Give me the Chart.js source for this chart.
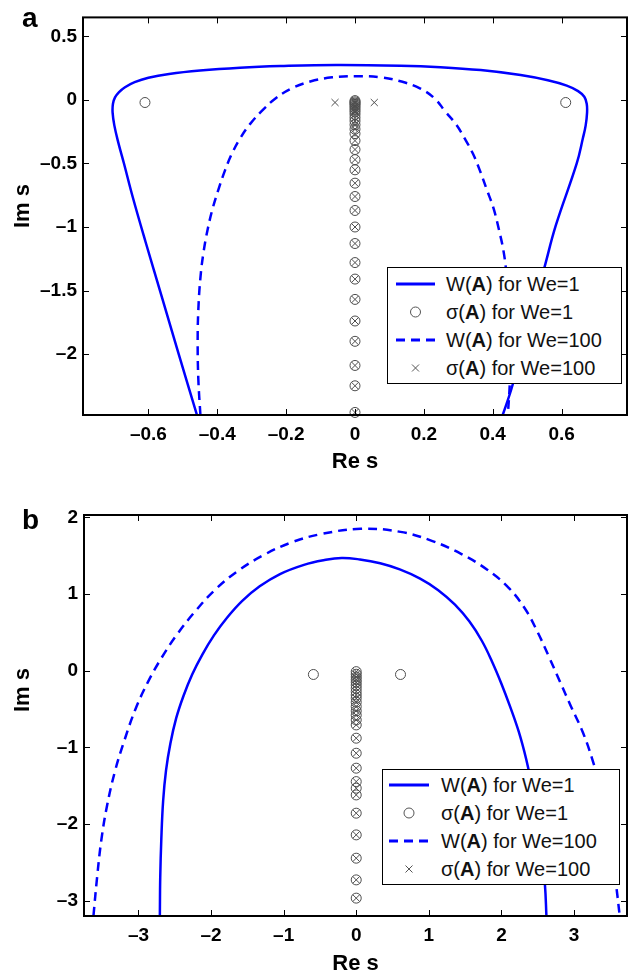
<!DOCTYPE html>
<html>
<head>
<meta charset="utf-8">
<script src="https://cdn.jsdelivr.net/npm/chart.js@4.4.1/dist/chart.umd.min.js"></script>
<style>
  body { margin: 0; background: #fff; font-family: "Liberation Sans", Arial, Helvetica, sans-serif; }
  #page { position: relative; width: 633px; height: 977px; overflow: hidden; }
  canvas { position: absolute; left: 0; }
  #chartA { top: 0; }
  #chartB { top: 488px; }
  .panel { position: absolute; left: 22px; font-size: 28px; font-weight: bold; line-height: 28px; }
  .ylab { position: absolute; font-size: 22px; font-weight: bold; line-height: 1; white-space: nowrap;
          transform: translate(-50%, -50%) rotate(-90deg); }
  .legend { position: absolute; box-sizing: border-box; border: 1.5px solid #000; background: #fff; }
  .legend svg { position: absolute; left: 0; top: 0; }
  .legend .row { position: absolute; left: 58px; height: 28px; line-height: 28px; font-size: 20px; color: #111; white-space: nowrap; }
</style>
</head>
<body>
<div id="page">
  <canvas id="chartA" width="633" height="488"></canvas>
  <canvas id="chartB" width="633" height="489"></canvas>

  <div class="panel" style="top:4px">a</div>
  <div class="panel" style="top:506px">b</div>
  <div class="ylab" style="left:22px; top:206px">Im s</div>
  <div class="ylab" style="left:22px; top:690px">Im s</div>

  <div class="legend" style="left:387px; top:267px; width:235px; height:117px">
    <svg width="60" height="115">
      <line x1="8" y1="16" x2="47" y2="16" stroke="#0000ff" stroke-width="3"/>
      <circle cx="27.5" cy="44" r="5" fill="none" stroke="#555" stroke-width="1"/>
      <line x1="8" y1="72" x2="47" y2="72" stroke="#0000ff" stroke-width="3" stroke-dasharray="9,6"/>
      <path d="M24 96.5 L31 103.5 M31 96.5 L24 103.5" stroke="#555" stroke-width="1"/>
    </svg>
    <div class="row" style="top:2px">W(<b>A</b>) for We=1</div>
    <div class="row" style="top:30px">σ(<b>A</b>) for We=1</div>
    <div class="row" style="top:58px">W(<b>A</b>) for We=100</div>
    <div class="row" style="top:86px">σ(<b>A</b>) for We=100</div>
  </div>

  <div class="legend" style="left:382px; top:769px; width:238px; height:116px">
    <svg width="60" height="114">
      <line x1="6" y1="15" x2="46" y2="15" stroke="#0000ff" stroke-width="3"/>
      <circle cx="26" cy="43" r="5" fill="none" stroke="#555" stroke-width="1"/>
      <line x1="6" y1="71" x2="46" y2="71" stroke="#0000ff" stroke-width="3" stroke-dasharray="9,6"/>
      <path d="M22.5 95.5 L29.5 102.5 M29.5 95.5 L22.5 102.5" stroke="#555" stroke-width="1"/>
    </svg>
    <div class="row" style="top:1px">W(<b>A</b>) for We=1</div>
    <div class="row" style="top:29px">σ(<b>A</b>) for We=1</div>
    <div class="row" style="top:57px">W(<b>A</b>) for We=100</div>
    <div class="row" style="top:85px">σ(<b>A</b>) for We=100</div>
  </div>
</div>

<script>
// ---- panel a: numerical range boundaries ----
const topW1Re = [-0.459, -0.512, -0.56, -0.608, -0.646, -0.671, -0.688, -0.699, -0.704, -0.703, -0.697, -0.686, -0.668, -0.64, -0.60, -0.54, -0.45, -0.334, -0.217, -0.055, 0.132, 0.248, 0.365, 0.481, 0.56, 0.615, 0.648, 0.666, 0.673, 0.674, 0.67, 0.662, 0.644, 0.583, 0.549, 0.50, 0.457, 0.429];
const topW1Im = [-2.48, -2.0, -1.56, -1.12, -0.76, -0.5, -0.33, -0.2, -0.1, -0.03, 0.02, 0.06, 0.10, 0.14, 0.175, 0.205, 0.232, 0.254, 0.267, 0.276, 0.27, 0.258, 0.235, 0.196, 0.155, 0.113, 0.07, 0.025, -0.03, -0.1, -0.2, -0.3, -0.5, -0.99, -1.33, -1.8, -2.25, -2.48];

const topW100Re = [-0.449, -0.455, -0.457, -0.455, -0.449, -0.44, -0.428, -0.413, -0.396, -0.377, -0.357, -0.333, -0.305, -0.272, -0.232, -0.185, -0.13, -0.066, 0.004, 0.075, 0.135, 0.19, 0.232, 0.262, 0.293, 0.318, 0.342, 0.362, 0.382, 0.402, 0.418, 0.432, 0.441, 0.448, 0.451, 0.45, 0.444];
const topW100Im = [-2.48, -2.2, -1.9, -1.65, -1.4, -1.2, -1.02, -0.85, -0.7, -0.55, -0.42, -0.3, -0.19, -0.09, 0.01, 0.09, 0.145, 0.178, 0.187, 0.178, 0.145, 0.09, 0.01, -0.09, -0.19, -0.3, -0.42, -0.55, -0.7, -0.85, -1.02, -1.2, -1.4, -1.65, -1.9, -2.2, -2.48];

// ---- panel a: eigenvalues ----
const topSig1Re = [-0.61, 0.612,
  0, 0, 0, 0, 0, 0, 0, 0, 0, 0,
  0, 0, 0, 0, 0, 0, 0, 0, 0, 0,
  0, 0, 0, 0, 0, 0, 0, 0, 0, 0, 0];
const topSig1Im = [-0.02, -0.02,
  -0.005, -0.015, -0.025, -0.035, -0.048, -0.062, -0.078, -0.095, -0.115, -0.14,
  -0.165, -0.195, -0.23, -0.265, -0.32, -0.39, -0.47, -0.55, -0.655, -0.76,
  -0.87, -1.0, -1.13, -1.28, -1.41, -1.57, -1.74, -1.90, -2.09, -2.25, -2.46];
const topSig100Re = [-0.058, 0.056,
  0, 0, 0, 0, 0, 0, 0, 0, 0, 0,
  0, 0, 0, 0, 0, 0, 0, 0, 0, 0,
  0, 0, 0, 0, 0, 0, 0, 0, 0, 0, 0];
const topSig100Im = [-0.02, -0.02,
  -0.005, -0.015, -0.025, -0.035, -0.048, -0.062, -0.078, -0.095, -0.115, -0.14,
  -0.165, -0.195, -0.23, -0.265, -0.32, -0.39, -0.47, -0.55, -0.655, -0.76,
  -0.87, -1.0, -1.13, -1.28, -1.41, -1.57, -1.74, -1.90, -2.09, -2.25, -2.46];

// ---- panel b: numerical range boundaries ----
const botW1Re = [-2.705, -2.70, -2.685, -2.66, -2.62, -2.56, -2.48, -2.38, -2.26, -2.12, -1.96, -1.78, -1.57, -1.33, -1.05, -0.72, -0.45, -0.20, 0.05, 0.33, 0.60, 0.88, 1.13, 1.36, 1.56, 1.73, 1.87, 2.0, 2.12, 2.24, 2.34, 2.42, 2.49, 2.55, 2.60, 2.62];
const botW1Im = [-3.2, -2.7, -2.2, -1.7, -1.3, -0.95, -0.62, -0.33, -0.05, 0.21, 0.46, 0.69, 0.91, 1.10, 1.26, 1.38, 1.44, 1.47, 1.45, 1.40, 1.32, 1.20, 1.05, 0.86, 0.64, 0.39, 0.12, -0.17, -0.47, -0.8, -1.15, -1.5, -1.9, -2.35, -2.8, -3.2];

const botW100Re = [-3.62, -3.57, -3.51, -3.43, -3.32, -3.19, -3.04, -2.87, -2.68, -2.47, -2.23, -1.95, -1.63, -1.29, -0.90, -0.49, 0.06, 0.61, 1.05, 1.45, 1.80, 2.10, 2.33, 2.50, 2.66, 2.81, 2.96, 3.12, 3.25, 3.35, 3.44, 3.51, 3.58, 3.63];
const botW100Im = [-3.2, -2.7, -2.2, -1.75, -1.3, -0.9, -0.5, -0.15, 0.17, 0.47, 0.76, 1.05, 1.30, 1.50, 1.67, 1.78, 1.85, 1.81, 1.69, 1.52, 1.32, 1.08, 0.80, 0.50, 0.17, -0.15, -0.47, -0.8, -1.15, -1.5, -1.9, -2.35, -2.8, -3.2];

// ---- panel b: eigenvalues ----
const botSig1Re = [-0.59, 0.61,
  0, 0, 0, 0, 0, 0, 0, 0, 0, 0,
  0, 0, 0, 0, 0, 0, 0, 0, 0, 0,
  0, 0, 0, 0, 0, 0, 0];
const botSig1Im = [-0.05, -0.05,
  -0.013, -0.047, -0.082, -0.117, -0.151, -0.19, -0.23, -0.274, -0.317, -0.36,
  -0.412, -0.469, -0.525, -0.581, -0.643, -0.708, -0.881, -1.077, -1.272, -1.447,
  -1.533, -1.621, -1.859, -2.142, -2.446, -2.729, -2.967];
const botSig100Re = [
  0, 0, 0, 0, 0, 0, 0, 0, 0, 0,
  0, 0, 0, 0, 0, 0, 0, 0, 0, 0,
  0, 0, 0, 0, 0, 0, 0];
const botSig100Im = [
  -0.013, -0.047, -0.082, -0.117, -0.151, -0.19, -0.23, -0.274, -0.317, -0.36,
  -0.412, -0.469, -0.525, -0.581, -0.643, -0.708, -0.881, -1.077, -1.272, -1.447,
  -1.533, -1.621, -1.859, -2.142, -2.446, -2.729, -2.967];

const FONT = "'Liberation Sans', Arial, Helvetica, sans-serif";
const BLUE = "#0000ff";
const GREY = "#4d4d4d";

function pts(xs, ys) {
  return xs.map((x, i) => ({ x: x, y: ys[i] }));
}

function fmt(v) {
  if (Math.abs(v) < 1e-9) return "0";
  const s = String(parseFloat(Math.abs(v).toFixed(2)));
  return (v < 0 ? "\u2013" : "") + s;
}

// black box round the plot area, ticks pointing inwards on all four sides
const framePlugin = {
  id: "frame",
  afterDraw(chart) {
    const { ctx, chartArea: a } = chart;
    const x = chart.scales.x, y = chart.scales.y;
    const tl = 6;
    ctx.save();
    ctx.strokeStyle = "#000";
    ctx.lineWidth = 1;
    ctx.beginPath();
    x.ticks.forEach((t) => {
      const px = Math.round(x.getPixelForValue(t.value)) + 0.5;
      ctx.moveTo(px, a.bottom); ctx.lineTo(px, a.bottom - tl);
      ctx.moveTo(px, a.top); ctx.lineTo(px, a.top + tl);
    });
    y.ticks.forEach((t) => {
      const py = Math.round(y.getPixelForValue(t.value)) + 0.5;
      ctx.moveTo(a.left, py); ctx.lineTo(a.left + tl, py);
      ctx.moveTo(a.right, py); ctx.lineTo(a.right - tl, py);
    });
    ctx.stroke();
    ctx.lineWidth = 2;
    ctx.strokeRect(a.left, a.top, a.right - a.left, a.bottom - a.top);
    ctx.restore();
  },
};

function makeChart(id, cfg) {
  const lineSet = (xs, ys, dash) => ({
    data: pts(xs, ys),
    showLine: true,
    borderColor: BLUE,
    borderWidth: 2.5,
    borderDash: dash,
    pointRadius: 0,
    tension: 0.4,
    fill: false,
  });
  const markSet = (xs, ys, style) => ({
    data: pts(xs, ys),
    showLine: false,
    pointStyle: style,
    pointRadius: 5,
    borderColor: GREY,
    borderWidth: 1,
    backgroundColor: "rgba(0,0,0,0)",
    clip: false,
  });
  return new Chart(document.getElementById(id), {
    type: "scatter",
    data: {
      datasets: [
        lineSet(cfg.w1[0], cfg.w1[1], []),
        markSet(cfg.s1[0], cfg.s1[1], "circle"),
        lineSet(cfg.w100[0], cfg.w100[1], [9, 6]),
        markSet(cfg.s100[0], cfg.s100[1], "crossRot"),
      ],
    },
    options: {
      responsive: false,
      animation: false,
      layout: { padding: { top: cfg.top, right: 1, left: 0, bottom: 0 } },
      plugins: { legend: { display: false }, tooltip: { enabled: false } },
      scales: {
        x: {
          type: "linear",
          min: cfg.xmin, max: cfg.xmax,
          grid: { display: false, drawTicks: false },
          border: { display: false },
          ticks: {
            stepSize: cfg.xstep, includeBounds: false, autoSkip: false, maxRotation: 0,
            padding: 8, color: "#000", callback: fmt,
            font: { family: FONT, size: 19, weight: "bold" },
          },
          title: {
            display: true, text: "Re s", color: "#000",
            padding: { top: 0, bottom: cfg.titlePad },
            font: { family: FONT, size: 22, weight: "bold" },
          },
          afterFit(s) { s.height = cfg.xh; },
        },
        y: {
          type: "linear",
          min: cfg.ymin, max: cfg.ymax,
          grid: { display: false, drawTicks: false },
          border: { display: false },
          ticks: {
            stepSize: cfg.ystep, includeBounds: false, autoSkip: false,
            padding: 6, color: "#000", callback: fmt,
            font: { family: FONT, size: 19, weight: "bold" },
          },
          afterFit(s) { s.width = cfg.yw; },
        },
      },
    },
    plugins: [framePlugin],
  });
}

makeChart("chartA", {
  w1: [topW1Re, topW1Im], s1: [topSig1Re, topSig1Im],
  w100: [topW100Re, topW100Im], s100: [topSig100Re, topSig100Im],
  xmin: -0.79, xmax: 0.79, xstep: 0.2,
  ymin: -2.48, ymax: 0.65, ystep: 0.5,
  top: 12, xh: 73, yw: 83, titlePad: 13,
});

makeChart("chartB", {
  w1: [botW1Re, botW1Im], s1: [botSig1Re, botSig1Im],
  w100: [botW100Re, botW100Im], s100: [botSig100Re, botSig100Im],
  xmin: -3.75, xmax: 3.73, xstep: 1,
  ymin: -3.2, ymax: 2.03, ystep: 1,
  top: 27, xh: 61, yw: 84, titlePad: 0,
});
</script>
</body>
</html>
